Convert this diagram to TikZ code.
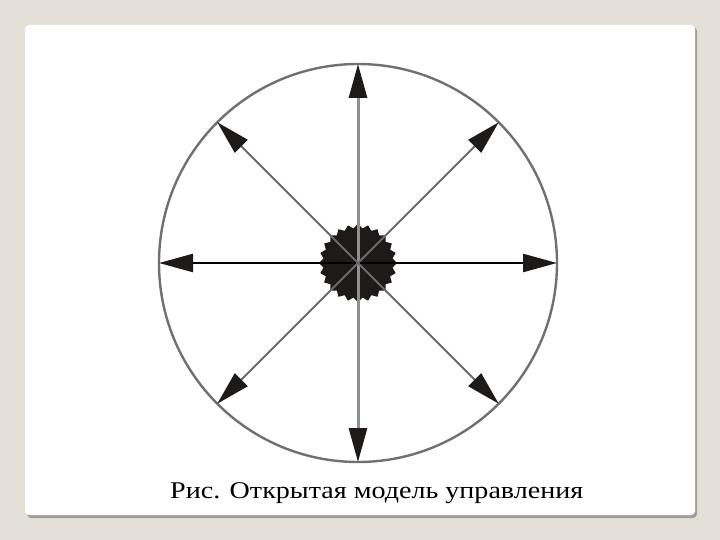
\documentclass[tikz,border=0pt]{standalone}
\usepackage{fontspec}
\setmainfont{Liberation Serif}
\usetikzlibrary{arrows.meta,shapes.geometric}

\definecolor{pagebg}{HTML}{E4E0D8}
\definecolor{shadowgray}{HTML}{A39D97}
\definecolor{rimgray}{HTML}{707070}
\definecolor{spokegray}{HTML}{6A6A6A}
\definecolor{hubblack}{HTML}{1E1A1A}

\tikzset{
  spoke/.style={line width=2pt, draw=spokegray, -{Triangle[length=34pt,width=18pt,color=hubblack]}},
  mainspoke/.style={spoke, draw=black, line width=2.4pt},
  upright/.style={spoke, line width=3pt, draw=spokegray!75},
}

\begin{document}
\begin{tikzpicture}[x=1pt,y=-1pt]
\useasboundingbox (0,0) rectangle (720,540);
\fill[pagebg] (0,0) rectangle (720,540);
% panel with shadow
\fill[shadowgray, rounded corners=4pt] (27,27) rectangle (697,518);
\fill[white, rounded corners=4pt] (25,25) rectangle (695,515);
% rim
\draw[rimgray, line width=2.4pt] (358,263) circle (199);
% points on the rim
\coordinate (n) at (358,64);
\coordinate (s) at (358,462);
\coordinate (w) at (159,263);
\coordinate (e) at (557,263);
\coordinate (nw) at (217.3,122.3);
\coordinate (ne) at (498.7,122.3);
\coordinate (sw) at (217.3,403.7);
\coordinate (se) at (498.7,403.7);
% hub
\node[star, star points=24, star point ratio=1.12, minimum size=78pt, inner sep=0pt,
      fill=hubblack] (hub) at (358,263) {};
\draw[upright] (hub.center) -- (n);
\draw[upright] (hub.center) -- (s);
\draw[mainspoke] (hub.center) -- (w);
\draw[mainspoke] (hub.center) -- (e);
\draw[spoke] (hub.center) -- (nw);
\draw[spoke] (hub.center) -- (ne);
\draw[spoke] (hub.center) -- (sw);
\draw[spoke] (hub.center) -- (se);
% caption
\node[anchor=base west, inner sep=0pt, xscale=1.17, transform shape,
      font=\fontsize{24}{28}\selectfont] (caption) at (170,498)
  {Рис. Открытая модель управления};
\end{tikzpicture}
\end{document}
